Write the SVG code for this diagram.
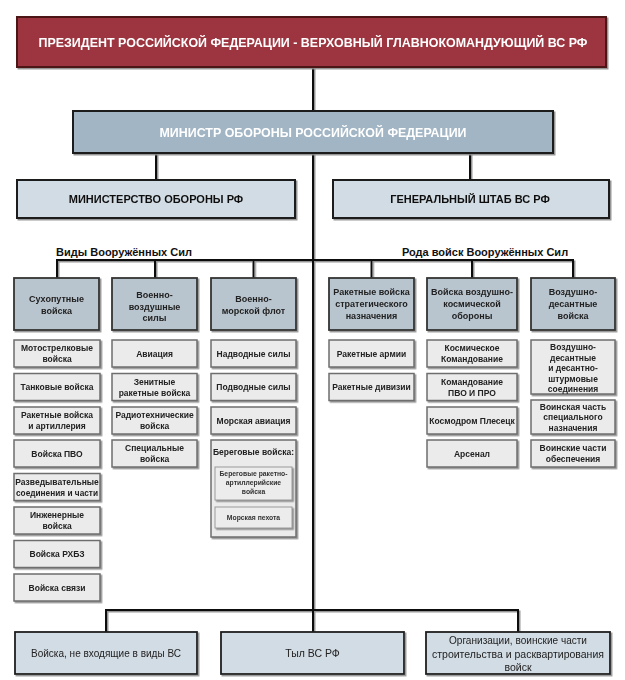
<svg xmlns="http://www.w3.org/2000/svg" width="625" height="680" viewBox="0 0 625 680">
<defs>
<filter id="sh" x="-10%" y="-10%" width="130%" height="140%">
<feDropShadow dx="1.5" dy="1.5" stdDeviation="0.6" flood-color="#8a8a8a" flood-opacity="0.9"/>
</filter>
<style>
text{font-family:"Liberation Sans",Arial,sans-serif;text-anchor:middle}
.pres{fill:#9d3640;stroke:#4d1218;stroke-width:2}
.min{fill:#a2b5c4;stroke:#1e1e1e;stroke-width:2}
.lvl2{fill:#d2dce4;stroke:#1e1e1e;stroke-width:2}
.hdr{fill:#b9c5ce;stroke:#333;stroke-width:1.8}
.sub{fill:#ebebeb;stroke:#6e6e6e;stroke-width:1.5}
.inner{fill:#ececec;stroke:#9a9a9a;stroke-width:1}
.bot{fill:#d2dce4;stroke:#1e1e1e;stroke-width:1.8}
.wt{fill:#fff;font-weight:bold;font-size:13px}
.bt{fill:#111;font-weight:bold;font-size:11px}
.lbl{fill:#111;font-weight:bold;font-size:11px}
.ht{fill:#222;font-weight:bold;font-size:9px}
.st{fill:#222;font-weight:bold;font-size:8.5px}
.it{fill:#333;font-weight:bold;font-size:6.8px}
.rt{fill:#222;font-size:10.5px}
.con{fill:none;stroke:#111;stroke-width:2}
</style>
</defs>
<rect width="625" height="680" fill="#fff"/>

<g id="connectors" filter="url(#sh)">
<path class="con" d="M313,67 V632"/>
<path class="con" d="M156,153 V180 M470,153 V180"/>
<path class="con" d="M57,278 V260 H313 M155,260 V278 M253.5,260 V278"/>
<path class="con" d="M313,260 H573 V278 M371.5,260 V278 M472,260 V278"/>
<path class="con" d="M106,632 V610 H518 V632"/>
</g>

<g id="president" filter="url(#sh)">
<rect class="pres" x="17" y="17" width="589" height="50"/>
<text class="wt" x="313" y="47" textLength="549" lengthAdjust="spacingAndGlyphs">ПРЕЗИДЕНТ РОССИЙСКОЙ ФЕДЕРАЦИИ - ВЕРХОВНЫЙ ГЛАВНОКОМАНДУЮЩИЙ ВС РФ</text>
</g>
<g id="minister" filter="url(#sh)">
<rect class="min" x="73" y="111" width="480" height="42"/>
<text class="wt" x="313" y="137" textLength="307" lengthAdjust="spacingAndGlyphs">МИНИСТР ОБОРОНЫ РОССИЙСКОЙ ФЕДЕРАЦИИ</text>
</g>
<g id="ministry" filter="url(#sh)">
<rect class="lvl2" x="17" y="180" width="278" height="38"/>
<text class="bt" x="156" y="203">МИНИСТЕРСТВО ОБОРОНЫ РФ</text>
</g>
<g id="genstaff" filter="url(#sh)">
<rect class="lvl2" x="333" y="180" width="276" height="38"/>
<text class="bt" x="470" y="203">ГЕНЕРАЛЬНЫЙ ШТАБ ВС РФ</text>
</g>

<text id="label-vidy" class="lbl" x="124" y="256">Виды Вооружённых Сил</text>
<text id="label-roda" class="lbl" x="485" y="256">Рода войск Вооружённых Сил</text>

<g id="sv" filter="url(#sh)">
<rect class="hdr" x="14" y="278" width="85" height="52"/>
<text class="ht" x="56.5" y="302">Сухопутные</text>
<text class="ht" x="56.5" y="314">войска</text>
</g>
<g id="vvs" filter="url(#sh)">
<rect class="hdr" x="112" y="278" width="85" height="52"/>
<text class="ht" x="154.5" y="298">Военно-</text>
<text class="ht" x="154.5" y="309.5">воздушные</text>
<text class="ht" x="154.5" y="321">силы</text>
</g>
<g id="vmf" filter="url(#sh)">
<rect class="hdr" x="211" y="278" width="85" height="52"/>
<text class="ht" x="253.5" y="302">Военно-</text>
<text class="ht" x="253.5" y="314">морской флот</text>
</g>
<g id="rvsn" filter="url(#sh)">
<rect class="hdr" x="329" y="278" width="85" height="52"/>
<text class="ht" x="371.5" y="295">Ракетные войска</text>
<text class="ht" x="371.5" y="307">стратегического</text>
<text class="ht" x="371.5" y="319">назначения</text>
</g>
<g id="vko" filter="url(#sh)">
<rect class="hdr" x="427" y="278" width="90" height="52"/>
<text class="ht" x="472" y="295">Войска воздушно-</text>
<text class="ht" x="472" y="307">космической</text>
<text class="ht" x="472" y="319">обороны</text>
</g>
<g id="vdv" filter="url(#sh)">
<rect class="hdr" x="531" y="278" width="84" height="52"/>
<text class="ht" x="573" y="295">Воздушно-</text>
<text class="ht" x="573" y="307">десантные</text>
<text class="ht" x="573" y="319">войска</text>
</g>

<!-- Сухопутные войска -->
<g id="sv-1" filter="url(#sh)"><rect class="sub" x="14" y="340" width="86" height="27"/><text class="st" x="57" y="351">Мотострелковые</text><text class="st" x="57" y="362">войска</text></g>
<g id="sv-2" filter="url(#sh)"><rect class="sub" x="14" y="373.5" width="86" height="27"/><text class="st" x="57" y="390">Танковые войска</text></g>
<g id="sv-3" filter="url(#sh)"><rect class="sub" x="14" y="407" width="86" height="27"/><text class="st" x="57" y="418">Ракетные войска</text><text class="st" x="57" y="429">и артиллерия</text></g>
<g id="sv-4" filter="url(#sh)"><rect class="sub" x="14" y="440" width="86" height="27"/><text class="st" x="57" y="456.5">Войска ПВО</text></g>
<g id="sv-5" filter="url(#sh)"><rect class="sub" x="14" y="473.5" width="86" height="27"/><text class="st" x="57" y="484.5">Разведывательные</text><text class="st" x="57" y="495.5" textLength="82" lengthAdjust="spacingAndGlyphs">соединения и части</text></g>
<g id="sv-6" filter="url(#sh)"><rect class="sub" x="14" y="507" width="86" height="27"/><text class="st" x="57" y="518">Инженерные</text><text class="st" x="57" y="529">войска</text></g>
<g id="sv-7" filter="url(#sh)"><rect class="sub" x="14" y="540.5" width="86" height="27"/><text class="st" x="57" y="557">Войска РХБЗ</text></g>
<g id="sv-8" filter="url(#sh)"><rect class="sub" x="14" y="574" width="86" height="27"/><text class="st" x="57" y="590.5">Войска связи</text></g>

<!-- ВВС -->
<g id="vvs-1" filter="url(#sh)"><rect class="sub" x="112" y="340" width="85" height="27"/><text class="st" x="154.5" y="356.5">Авиация</text></g>
<g id="vvs-2" filter="url(#sh)"><rect class="sub" x="112" y="373.5" width="85" height="27"/><text class="st" x="154.5" y="384.5">Зенитные</text><text class="st" x="154.5" y="395.5">ракетные войска</text></g>
<g id="vvs-3" filter="url(#sh)"><rect class="sub" x="112" y="407" width="85" height="27"/><text class="st" x="154.5" y="418">Радиотехнические</text><text class="st" x="154.5" y="429">войска</text></g>
<g id="vvs-4" filter="url(#sh)"><rect class="sub" x="112" y="440" width="85" height="27"/><text class="st" x="154.5" y="451">Специальные</text><text class="st" x="154.5" y="462">войска</text></g>

<!-- ВМФ -->
<g id="vmf-1" filter="url(#sh)"><rect class="sub" x="211" y="340" width="85" height="27"/><text class="st" x="253.5" y="356.5">Надводные силы</text></g>
<g id="vmf-2" filter="url(#sh)"><rect class="sub" x="211" y="373.5" width="85" height="27"/><text class="st" x="253.5" y="390">Подводные силы</text></g>
<g id="vmf-3" filter="url(#sh)"><rect class="sub" x="211" y="407" width="85" height="27"/><text class="st" x="253.5" y="423.5">Морская авиация</text></g>
<g id="vmf-4" filter="url(#sh)"><rect class="sub" x="211" y="440" width="85" height="97"/><text class="st" x="253.5" y="455">Береговые войска:</text></g>
<g id="vmf-4a" filter="url(#sh)"><rect class="inner" x="215" y="467" width="77" height="33"/><text class="it" x="253.5" y="476">Береговые ракетно-</text><text class="it" x="253.5" y="485">артиллерийские</text><text class="it" x="253.5" y="494">войска</text></g>
<g id="vmf-4b" filter="url(#sh)"><rect class="inner" x="215" y="507" width="77" height="21"/><text class="it" x="253.5" y="520">Морская пехота</text></g>

<!-- РВСН -->
<g id="rvsn-1" filter="url(#sh)"><rect class="sub" x="329" y="340" width="85" height="27"/><text class="st" x="371.5" y="356.5">Ракетные армии</text></g>
<g id="rvsn-2" filter="url(#sh)"><rect class="sub" x="329" y="373.5" width="85" height="27"/><text class="st" x="371.5" y="390">Ракетные дивизии</text></g>

<!-- ВКО -->
<g id="vko-1" filter="url(#sh)"><rect class="sub" x="427" y="340" width="90" height="27"/><text class="st" x="472" y="351">Космическое</text><text class="st" x="472" y="362">Командование</text></g>
<g id="vko-2" filter="url(#sh)"><rect class="sub" x="427" y="373.5" width="90" height="27"/><text class="st" x="472" y="384.5">Командование</text><text class="st" x="472" y="395.5">ПВО И ПРО</text></g>
<g id="vko-3" filter="url(#sh)"><rect class="sub" x="427" y="407" width="90" height="27"/><text class="st" x="472" y="423.5">Космодром Плесецк</text></g>
<g id="vko-4" filter="url(#sh)"><rect class="sub" x="427" y="440" width="90" height="27"/><text class="st" x="472" y="456.5">Арсенал</text></g>

<!-- ВДВ -->
<g id="vdv-1" filter="url(#sh)"><rect class="sub" x="531" y="340" width="84" height="54"/><text class="st" x="573" y="350">Воздушно-</text><text class="st" x="573" y="360.5">десантные</text><text class="st" x="573" y="371">и десантно-</text><text class="st" x="573" y="381.5">штурмовые</text><text class="st" x="573" y="392">соединения</text></g>
<g id="vdv-2" filter="url(#sh)"><rect class="sub" x="531" y="400" width="84" height="34"/><text class="st" x="573" y="409.5">Воинская часть</text><text class="st" x="573" y="420">специального</text><text class="st" x="573" y="430.5">назначения</text></g>
<g id="vdv-3" filter="url(#sh)"><rect class="sub" x="531" y="440" width="84" height="27"/><text class="st" x="573" y="451">Воинские части</text><text class="st" x="573" y="462">обеспечения</text></g>

<!-- bottom -->
<g id="bottom-1" filter="url(#sh)"><rect class="bot" x="15" y="632" width="182" height="42"/><text class="rt" x="106" y="657" textLength="150" lengthAdjust="spacingAndGlyphs">Войска, не входящие в виды ВС</text></g>
<g id="bottom-2" filter="url(#sh)"><rect class="bot" x="221" y="632" width="183" height="42"/><text class="rt" x="312.5" y="657">Тыл ВС РФ</text></g>
<g id="bottom-3" filter="url(#sh)"><rect class="bot" x="426" y="632" width="184" height="42"/><text class="rt" x="518" y="644" textLength="138" lengthAdjust="spacingAndGlyphs">Организации, воинские части</text><text class="rt" x="518" y="658" textLength="172" lengthAdjust="spacingAndGlyphs">строительства и расквартирования</text><text class="rt" x="518" y="671">войск</text></g>
</svg>
